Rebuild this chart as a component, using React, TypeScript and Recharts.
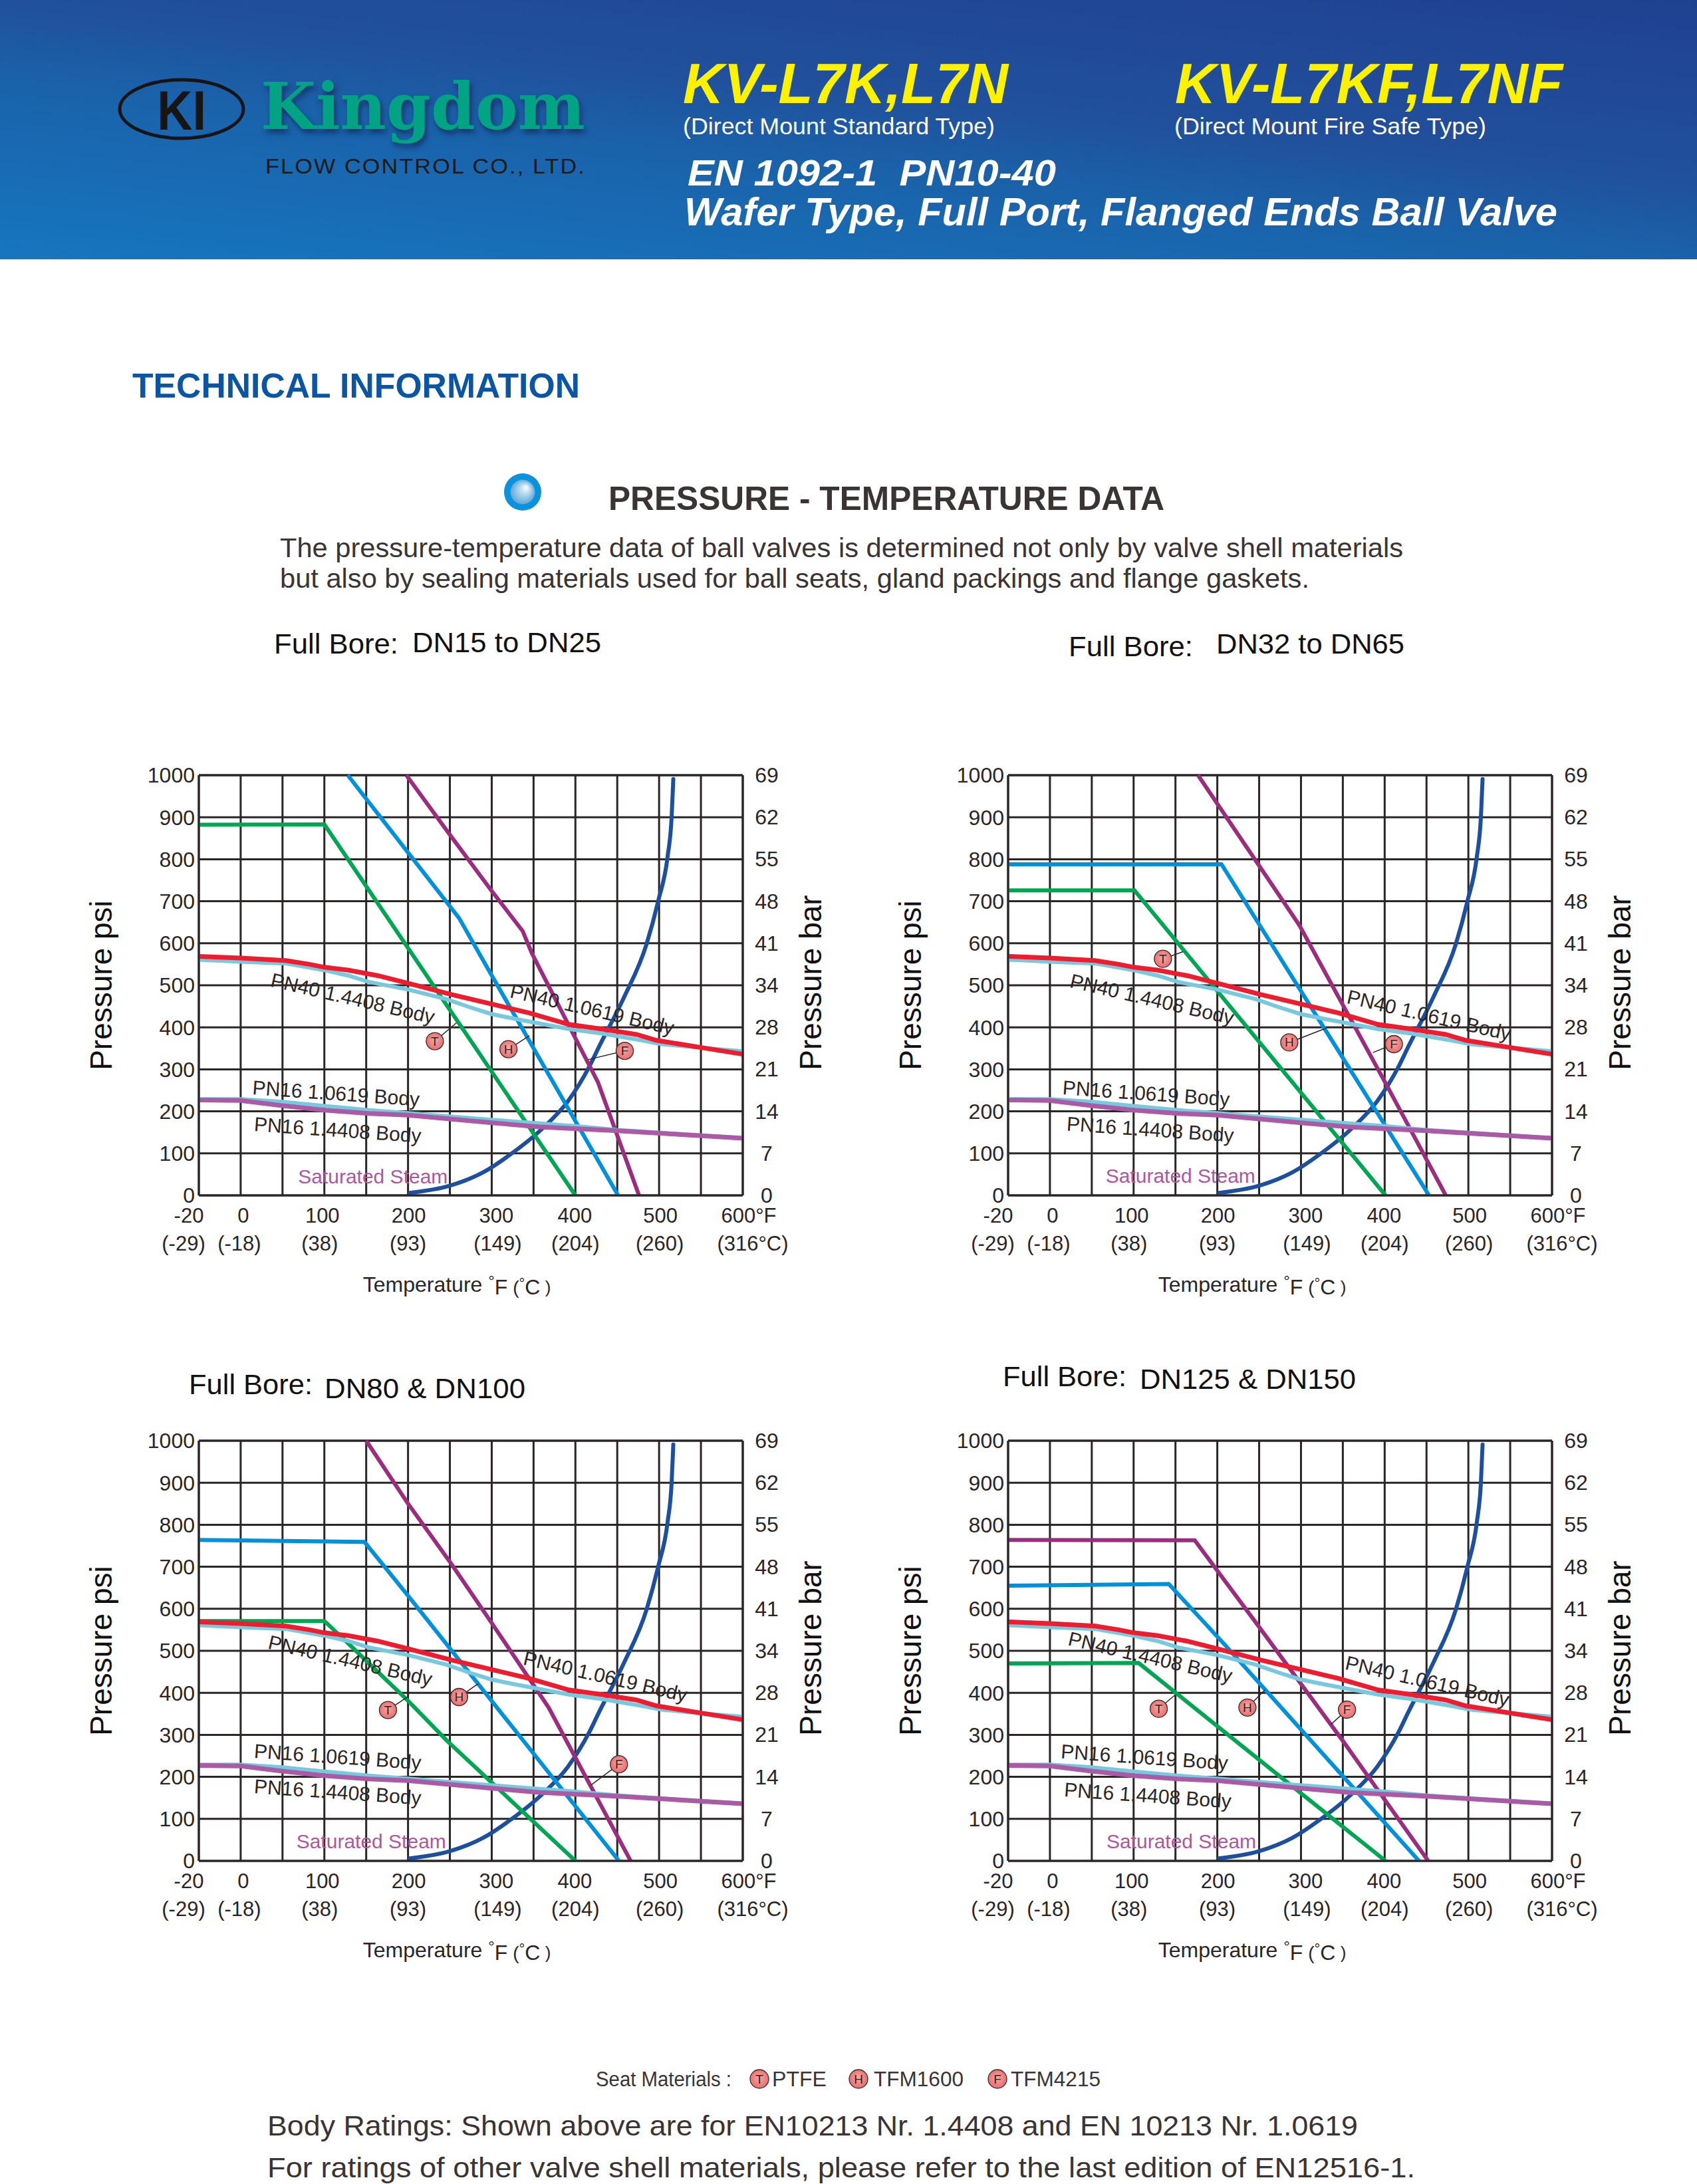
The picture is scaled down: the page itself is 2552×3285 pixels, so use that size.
import React from 'react';
import { LineChart, Line, XAxis, YAxis, CartesianGrid, ReferenceDot, ReferenceLine } from 'recharts';

// ---------- axis data ----------
const gridTempPositions = [-50, 0, 50, 100, 150, 200, 250, 300, 350, 400, 450, 500, 550, 600];
const fahrenheitLabels: Record<number, string> = { [-50]: '-20', 0: '0', 100: '100', 200: '200', 300: '300', 400: '400', 500: '500', 600: '600°F' };
const celsiusLabels: Record<number, string> = { [-50]: '(-29)', 0: '(-18)', 100: '(38)', 200: '(93)', 300: '(149)', 400: '(204)', 500: '(260)', 600: '(316°C)' };
const psiTicks = [0, 100, 200, 300, 400, 500, 600, 700, 800, 900, 1000];
const barLabels = ['0', '7', '14', '21', '28', '34', '41', '48', '55', '62', '69'];

// ---------- body rating curves shared by every chart ----------
const pn40C_F = [-50, 0, 54, 82, 100, 129, 164, 200, 252, 299, 345, 392, 438, 473, 497, 553, 600];
const pn40C_P = [569, 565, 559, 550, 543, 536, 523, 505, 478, 456, 434, 407, 394, 383, 369, 351, 336];
const pn40S_F = [-50, 0, 54, 100, 129, 153, 200, 246, 275, 299, 328, 392, 433, 479, 503, 553, 600];
const pn40S_P = [561, 556, 552, 536, 523, 508, 490, 467, 447, 432, 420, 396, 385, 369, 360, 351, 343];
const pn16C_F = [-50, 0, 48, 100, 153, 200, 300, 400, 450, 600];
const pn16C_P = [229, 229, 223, 213, 203, 196, 180, 165, 156, 136];
const pn16S_F = [-50, 0, 48, 100, 153, 200, 300, 357, 450, 600];
const pn16S_P = [227, 226, 214, 203, 195, 191, 173, 163, 154, 136];
const steam_F = [202, 250, 290, 322, 361, 391, 417, 428, 458, 485, 499, 510, 515, 517];
const steam_P = [6, 23, 55, 97, 160, 224, 308, 353, 471, 598, 701, 804, 901, 991];

// ---------- seat curves: DN15 to DN25 ----------
const a_ptfe_F = [-50, 100, 400];
const a_ptfe_P = [882, 883, 0];
const a_tfm1600_F = [128, 200, 261, 299, 451];
const a_tfm1600_P = [1000, 816, 660, 527, 0];
const a_tfm4215_F = [198, 246, 299, 337, 348, 427, 476];
const a_tfm4215_P = [1000, 869, 727, 629, 576, 269, 0];
// DN32 to DN65
const b_ptfe_F = [-50, 101, 401];
const b_ptfe_P = [726, 726, 0];
const b_tfm1600_F = [-50, 205, 453];
const b_tfm1600_P = [788, 788, 0];
const b_tfm4215_F = [177, 298, 403, 473];
const b_tfm4215_P = [1000, 643, 260, 0];
// DN80 & DN100
const c_ptfe_F = [-50, 100, 123, 200, 246, 400];
const c_ptfe_P = [571, 571, 528, 381, 287, 0];
const c_tfm1600_F = [-50, 148, 200, 452];
const c_tfm1600_P = [764, 759, 631, 0];
const c_tfm4215_F = [150, 199, 252, 299, 368, 466];
const c_tfm4215_P = [1000, 853, 706, 569, 365, 0];
// DN125 & DN150
const d_ptfe_F = [-50, 106, 251, 401];
const d_ptfe_P = [470, 471, 239, 0];
const d_tfm1600_F = [-50, 142, 211, 441];
const d_tfm1600_P = [655, 659, 510, 0];
const d_tfm4215_F = [-50, 173, 251, 351, 452];
const d_tfm4215_P = [764, 763, 554, 283, 0];

const zip = (f: number[], p: number[]) => f.map((x, i) => ({ x, y: p[i] }));

// ---------- annotations, read in chart units ----------
const labelPN40S = 'PN40 1.4408 Body';
const labelPN40C = 'PN40 1.0619 Body';
const labelPN16C = 'PN16 1.0619 Body';
const labelPN16S = 'PN16 1.4408 Body';
const labelSteam = 'Saturated Steam';

type Chart = {
  seat: number[][];
  notes: number[][]; // [x,y] for the five labels in order
  markers: number[][]; // [x,y,lineX,lineY] for T,H,F
};
const charts: Chart[] = [
  {
    seat: [a_ptfe_F, a_ptfe_P, a_tfm1600_F, a_tfm1600_P, a_tfm4215_F, a_tfm4215_P],
    notes: [[134, 469], [420, 443], [114, 243], [116, 156], [158, 45]],
    markers: [[232, 367, 258, 411], [320, 348, 345, 380], [459, 344, 415, 323]],
  },
  {
    seat: [b_ptfe_F, b_ptfe_P, b_tfm1600_F, b_tfm1600_P, b_tfm4215_F, b_tfm4215_P],
    notes: [[122, 467], [453, 429], [115, 243], [120, 157], [156, 47]],
    markers: [[135, 563, 159, 580], [286, 364, 330, 398], [411, 360, 386, 340]],
  },
  {
    seat: [c_ptfe_F, c_ptfe_P, c_tfm1600_F, c_tfm1600_P, c_tfm4215_F, c_tfm4215_P],
    notes: [[131, 477], [436, 439], [116, 248], [116, 164], [156, 46]],
    markers: [[176, 359, 199, 390], [261, 390, 284, 422], [452, 230, 419, 181]],
  },
  {
    seat: [d_ptfe_F, d_ptfe_P, d_tfm1600_F, d_tfm1600_P, d_tfm4215_F, d_tfm4215_P],
    notes: [[120, 485], [451, 428], [113, 247], [117, 156], [157, 46]],
    markers: [[130, 362, 149, 394], [236, 365, 257, 407], [355, 360, 336, 325]],
  },
];

// ---------- styles and layout ----------
const INK = '#2b2526';
const FONT = '"Liberation Sans", Arial, sans-serif';
const PLOT_W = 818;
const PLOT_H = 632;
const LEFT = 200;
const RIGHT = 180;
const TOP = 24;
const BOTTOM = 170;
const places = [
  { left: 299, top: 1166, titleNudge: 0 },
  { left: 1516, top: 1166, titleNudge: -21 },
  { left: 299, top: 2167, titleNudge: 0 },
  { left: 1516, top: 2167, titleNudge: -21 },
];
const noteStyle = [
  { angle: 13, color: INK },
  { angle: 13, color: INK },
  { angle: 4, color: INK },
  { angle: 4, color: INK },
  { angle: 0, color: '#b0559e' },
];
const noteText = [labelPN40S, labelPN40C, labelPN16C, labelPN16S, labelSteam];
const markerLetters = ['T', 'H', 'F'];
const nudgeF: Record<number, number> = { [-50]: -15, 0: 4, 100: -3, 200: 1, 300: 7, 400: -1, 500: 2, 600: 9 };
const nudgeC: Record<number, number> = { [-50]: -23, 0: -2, 100: -7, 200: 0, 300: 9, 400: 0, 500: 1, 600: 15 };

const XTick = (p: any) => {
  const v = p.payload.value;
  if (fahrenheitLabels[v] === undefined) return <g />;
  return (
    <g fontFamily={FONT} fontSize={31} fill={INK} textAnchor="middle">
      <text x={p.x + nudgeF[v]} y={p.y + 24} dominantBaseline="central">{fahrenheitLabels[v]}</text>
      <text x={p.x + nudgeC[v]} y={p.y + 66} dominantBaseline="central">{celsiusLabels[v]}</text>
    </g>
  );
};
const RightTick = (p: any) => (
  <text x={p.x + 30} y={p.y} textAnchor="middle" dominantBaseline="central" fontFamily={FONT} fontSize={32} fill={INK}>
    {barLabels[psiTicks.indexOf(p.payload.value)]}
  </text>
);
const Note = (text: string, angle: number, color: string) => (p: any) => (
  <text
    x={p.cx}
    y={p.cy}
    transform={`rotate(${angle} ${p.cx} ${p.cy})`}
    textAnchor="middle"
    dominantBaseline="central"
    fontFamily={FONT}
    fontSize={30}
    fill={color}
  >
    {text}
  </text>
);
const Marker = (letter: string) => (p: any) => (
  <g>
    <circle cx={p.cx} cy={p.cy} r={13} fill="url(#seatBall)" stroke="#3a2a2a" strokeWidth={1.3} />
    <text x={p.cx} y={p.cy} textAnchor="middle" dominantBaseline="central" fontFamily={FONT} fontSize={19} fill={INK}>
      {letter}
    </text>
  </g>
);

const Valve = ({ c, place }: { c: Chart; place: { left: number; top: number; titleNudge: number } }) => (
  <div style={{ position: 'absolute', left: place.left - LEFT, top: place.top - TOP }}>
    <LineChart
      width={LEFT + PLOT_W + RIGHT}
      height={TOP + PLOT_H + BOTTOM}
      margin={{ left: 0, right: 0, top: TOP, bottom: 0 }}
    >
      <CartesianGrid xAxisId="t" yAxisId="psi" stroke={INK} strokeWidth={3} fill="none" />
      <XAxis
        xAxisId="t"
        type="number"
        dataKey="x"
        domain={[-50, 600]}
        ticks={gridTempPositions}
        interval={0}
        tick={<XTick />}
        tickLine={false}
        axisLine={{ stroke: INK, strokeWidth: 3 }}
        height={BOTTOM}
        tickMargin={0}
        label={(p: any) => (
          <text x={p.viewBox.x + 388 + place.titleNudge} y={p.viewBox.y + 134} textAnchor="middle" dominantBaseline="central" fontFamily={FONT} fontSize={32} fill={INK}>
            Temperature <tspan fontSize={24} dy={-6}>°</tspan><tspan fontSize={32} dy={10}>F</tspan><tspan fontSize={28}> (</tspan><tspan fontSize={22} dy={-6}>°</tspan><tspan fontSize={32} dy={6}>C</tspan><tspan fontSize={26}> )</tspan>
          </text>
        )}
      />
      <YAxis
        yAxisId="psi"
        orientation="left"
        type="number"
        domain={[0, 1000]}
        ticks={psiTicks}
        interval={0}
        width={LEFT}
        tickLine={false}
        tickMargin={0}
        axisLine={{ stroke: INK, strokeWidth: 3 }}
        tick={{ fontFamily: FONT, fontSize: 32, fill: INK }}
        label={(p: any) => (
          <text
            transform={`rotate(-90 ${p.viewBox.x + 53} ${p.viewBox.y + PLOT_H / 2})`}
            x={p.viewBox.x + 53}
            y={p.viewBox.y + PLOT_H / 2}
            textAnchor="middle"
            dominantBaseline="central"
            fontFamily={FONT}
            fontSize={46}
            fill="#111"
          >
            Pressure psi
          </text>
        )}
      />
      <YAxis
        yAxisId="bar"
        orientation="right"
        type="number"
        domain={[0, 1000]}
        ticks={psiTicks}
        interval={0}
        width={RIGHT}
        tickLine={false}
        tickMargin={0}
        axisLine={{ stroke: INK, strokeWidth: 3 }}
        tick={<RightTick />}
        label={(p: any) => (
          <text
            transform={`rotate(-90 ${p.viewBox.x + 102} ${p.viewBox.y + PLOT_H / 2 - 4})`}
            x={p.viewBox.x + 102}
            y={p.viewBox.y + PLOT_H / 2 - 4}
            textAnchor="middle"
            dominantBaseline="central"
            fontFamily={FONT}
            fontSize={46}
            fill="#111"
          >
            Pressure bar
          </text>
        )}
      />
      <Line xAxisId="t" yAxisId="bar" data={zip(gridTempPositions.slice(0, 11), psiTicks)} dataKey="y" legendType="none" stroke="none" dot={false} activeDot={false} isAnimationActive={false} />
      <ReferenceLine xAxisId="t" yAxisId="psi" y={1000} stroke={INK} strokeWidth={3} />
      {noteText.map((t, i) => (
        <ReferenceDot
          key={t}
          xAxisId="t"
          yAxisId="psi"
          x={c.notes[i][0]}
          y={c.notes[i][1]}
          r={1}
          shape={Note(t, noteStyle[i].angle, noteStyle[i].color)}
        />
      ))}
      <Line xAxisId="t" yAxisId="psi" data={zip(steam_F, steam_P)} dataKey="y" name="Saturated Steam" type="monotone" stroke="#1d4fa0" strokeWidth={6} strokeLinecap="round" dot={false} isAnimationActive={false} />
      <Line xAxisId="t" yAxisId="psi" data={zip(c.seat[0], c.seat[1])} dataKey="y" name="PTFE" type="linear" stroke="#00a651" strokeWidth={6} dot={false} isAnimationActive={false} />
      <Line xAxisId="t" yAxisId="psi" data={zip(c.seat[2], c.seat[3])} dataKey="y" name="TFM1600" type="linear" stroke="#0091da" strokeWidth={6} dot={false} isAnimationActive={false} />
      <Line xAxisId="t" yAxisId="psi" data={zip(c.seat[4], c.seat[5])} dataKey="y" name="TFM4215" type="linear" stroke="#9b2c7e" strokeWidth={6} dot={false} isAnimationActive={false} />
      <Line xAxisId="t" yAxisId="psi" data={zip(pn40S_F, pn40S_P)} dataKey="y" name="PN40 1.4408" type="linear" stroke="#78c9de" strokeWidth={6} dot={false} isAnimationActive={false} />
      <Line xAxisId="t" yAxisId="psi" data={zip(pn40C_F, pn40C_P)} dataKey="y" name="PN40 1.0619" type="linear" stroke="#ed1c2e" strokeWidth={7} dot={false} isAnimationActive={false} />
      <Line xAxisId="t" yAxisId="psi" data={zip(pn16C_F, pn16C_P)} dataKey="y" name="PN16 1.0619" type="linear" stroke="#78c9de" strokeWidth={6} dot={false} isAnimationActive={false} />
      <Line xAxisId="t" yAxisId="psi" data={zip(pn16S_F, pn16S_P)} dataKey="y" name="PN16 1.4408" type="linear" stroke="#ab5ba6" strokeWidth={7} dot={false} isAnimationActive={false} />
      {c.markers.map((m, i) => (
        <ReferenceLine
          key={'l' + i}
          xAxisId="t"
          yAxisId="psi"
          segment={[{ x: m[0], y: m[1] }, { x: m[2], y: m[3] }]}
          stroke={INK}
          strokeWidth={1.5}
        />
      ))}
      {c.markers.map((m, i) => (
        <ReferenceDot key={'m' + i} xAxisId="t" yAxisId="psi" x={m[0]} y={m[1]} r={13} shape={Marker(markerLetters[i])} />
      ))}
    </LineChart>
  </div>
);

const T = (p: any) => {
  const { x, y, w, size, fill = '#3a3435', bold, italic, children, family = FONT, style } = p;
  return (
    <text
      x={x}
      y={y}
      textLength={w}
      lengthAdjust={w ? 'spacingAndGlyphs' : undefined}
      fontFamily={family}
      fontSize={size}
      fontWeight={bold ? 700 : 400}
      fontStyle={italic ? 'italic' : 'normal'}
      fill={fill}
      style={{ whiteSpace: 'pre', ...style }}
    >
      {children}
    </text>
  );
};

const Page = () => (
  <svg width={2552} height={3285} style={{ position: 'absolute', left: 0, top: 0 }}>
    <defs>
      <radialGradient id="ball" cx="50%" cy="50%" r="52%" fx="66%" fy="30%">
        <stop offset="0%" stopColor="#ffffff" />
        <stop offset="35%" stopColor="#bfdff0" />
        <stop offset="100%" stopColor="#5aa6d8" />
      </radialGradient>
      <radialGradient id="seatBall" cx="50%" cy="50%" r="55%" fx="50%" fy="40%">
        <stop offset="0%" stopColor="#f7a9a4" />
        <stop offset="100%" stopColor="#e8696b" />
      </radialGradient>
    </defs>
    <ellipse cx={273} cy={164} rx={93} ry={44} fill="none" stroke="#151515" strokeWidth={5} />
    <T x={236} y={195} w={74} size={84} bold fill="#151515">KI</T>
    <T x={392} y={194} w={488} size={97} bold fill="#00a383" family='"DejaVu Serif", serif' style={{ filter: 'drop-shadow(3px 6px 4px rgba(10,30,70,0.65))' }}>Kingdom</T>
    <T x={399} y={261} w={482} size={32} fill="#1a1a1a" style={{ letterSpacing: 2 }}>FLOW CONTROL CO., LTD.</T>

    <T x={1027} y={155} w={489} size={85} bold italic fill="#fff200">KV-L7K,L7N</T>
    <T x={1767} y={155} w={583} size={85} bold italic fill="#fff200">KV-L7KF,L7NF</T>
    <T x={1027} y={202} w={469} size={35} fill="#fff">(Direct Mount Standard Type)</T>
    <T x={1766} y={202} w={469} size={35} fill="#fff">(Direct Mount Fire Safe Type)</T>
    <T x={1034} y={279} w={554} size={56} bold italic fill="#fff">EN 1092-1  PN10-40</T>
    <T x={1029} y={339} w={1313} size={60} bold italic fill="#fff">Wafer Type, Full Port, Flanged Ends Ball Valve</T>

    <T x={199} y={598} w={673} size={51} bold fill="#0a56a5">TECHNICAL INFORMATION</T>
    <circle cx={786} cy={740} r={28} fill="#0a93dc" />
    <circle cx={786} cy={740} r={18.5} fill="url(#ball)" />
    <T x={915} y={767} w={836} size={50} bold>PRESSURE - TEMPERATURE DATA</T>
    <T x={421} y={838} w={1689} size={41}>The pressure-temperature data of ball valves is determined not only by valve shell materials</T>
    <T x={421} y={884} w={1548} size={41}>but also by sealing materials used for ball seats, gland packings and flange gaskets.</T>

    <T x={412} y={983} w={187} size={42} fill="#111">Full Bore:</T>
    <T x={620} y={981} w={284} size={42} fill="#111">DN15 to DN25</T>
    <T x={1607} y={987} w={187} size={42} fill="#111">Full Bore:</T>
    <T x={1829} y={983} w={283} size={42} fill="#111">DN32 to DN65</T>
    <T x={284} y={2097} w={186} size={42} fill="#111">Full Bore:</T>
    <T x={488} y={2103} w={302} size={42} fill="#111">DN80 &amp; DN100</T>
    <T x={1508} y={2085} w={186} size={42} fill="#111">Full Bore:</T>
    <T x={1714} y={2089} w={325} size={42} fill="#111">DN125 &amp; DN150</T>

    <T x={896} y={3138} w={204} size={31}>Seat Materials :</T>
    {[[1142, 'T'], [1291, 'H'], [1500, 'F']].map(([cx, l]) => (
      <g key={l as string}>
        <circle cx={cx as number} cy={3127} r={14} fill="url(#seatBall)" stroke="#3a2a2a" strokeWidth={1.3} />
        <text x={cx as number} y={3127} textAnchor="middle" dominantBaseline="central" fontFamily={FONT} fontSize={19} fill="#2b2526">{l as string}</text>
      </g>
    ))}
    <T x={1161} y={3138} w={82} size={31}>PTFE</T>
    <T x={1314} y={3138} w={135} size={31}>TFM1600</T>
    <T x={1520} y={3138} w={135} size={31}>TFM4215</T>
    <T x={402} y={3212} w={1640} size={42}>Body Ratings: Shown above are for EN10213 Nr. 1.4408 and EN 10213 Nr. 1.0619</T>
    <T x={402} y={3275} w={1726} size={42}>For ratings of other valve shell materials, please refer to the last edition of EN12516-1.</T>
  </svg>
);

export default function App() {
  return (
    <div style={{ position: 'absolute', left: 0, top: 0, width: 2552, height: 3285, overflow: 'hidden', background: '#fff' }}>
      <div
        style={{
          position: 'absolute',
          left: 0,
          top: 0,
          width: 2552,
          height: 390,
          background: 'linear-gradient(186deg, #1f4190 0%, #21509c 41%, #1a62aa 59%, #1676bf 100%)',
        }}
      />
      <Page />
      {charts.map((c, i) => (
        <Valve key={i} c={c} place={places[i]} />
      ))}
    </div>
  );
}
